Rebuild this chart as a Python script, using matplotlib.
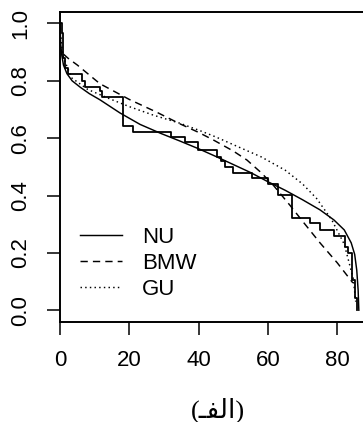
import matplotlib
matplotlib.use("Agg")
import matplotlib.pyplot as plt

# ---- data ----
step_x = [0, 0.6, 1.0, 1.3, 2.2, 6.3, 7.2, 11.5, 12.0, 18.1, 21.1, 32.1, 36.1, 39.9,
          45.2, 46.5, 47.5, 50.0, 55.3, 60.1, 63.0, 66.9, 72.2, 75.0, 79.1, 82.1,
          83.1, 84.2, 85.1, 85.6]
step_y = [1.0, 0.967, 0.88, 0.845, 0.825, 0.80, 0.78, 0.763, 0.744, 0.641, 0.622, 0.605,
          0.585, 0.559, 0.536, 0.520, 0.501, 0.478, 0.460, 0.441, 0.402, 0.321, 0.303,
          0.280, 0.260, 0.221, 0.198, 0.105, 0.041, 0.0]

nu_x = [0, 0.2, 0.5, 1.0, 2.0, 3.5, 5.8, 8.5, 11.5, 17.3, 23.1, 29.0, 34.6, 40.0, 45.0,
        50.0, 55.0, 60.0, 65.0, 70.0, 75.0, 79.0, 82.0, 84.0, 85.0, 85.6, 86.0, 86.2]
nu_y = [1.0, 0.93, 0.89, 0.855, 0.825, 0.80, 0.778, 0.755, 0.734, 0.688, 0.648, 0.617,
        0.590, 0.563, 0.536, 0.508, 0.480, 0.448, 0.418, 0.385, 0.350, 0.315, 0.280,
        0.235, 0.195, 0.14, 0.07, 0.0]

bmw_x = [1.0, 2.4, 5.0, 11.5, 20, 28, 34.6, 40, 44.2, 50, 53.9, 58, 61.6, 66.4, 70, 75,
         80, 84.5]
bmw_y = [0.893, 0.878, 0.855, 0.790, 0.735, 0.69, 0.650, 0.620, 0.594, 0.555, 0.524,
         0.48, 0.435, 0.365, 0.31, 0.235, 0.165, 0.095]

gu_x = [0, 0.5, 1.0, 3.4, 8, 14.4, 20, 27, 34.6, 40, 45, 51, 58, 65, 70, 74, 78.4, 82,
        84.6, 85.3]
gu_y = [1.0, 0.92, 0.88, 0.81, 0.77, 0.737, 0.71, 0.68, 0.652, 0.628, 0.604, 0.572,
        0.535, 0.488, 0.44, 0.39, 0.315, 0.23, 0.11, 0.03]

labels = ["NU", "BMW", "GU"]
x_ticks = [0, 20, 40, 60, 80]
y_ticks = [0.0, 0.2, 0.4, 0.6, 0.8, 1.0]
x_label = "(\u0640\uFED4\uFEDF\uFE8D)"

plt.rcParams['font.family'] = ['Liberation Sans', 'DejaVu Sans']

W, H = 363, 422
fig = plt.figure(figsize=(W / 100, H / 100), dpi=100)
left_px, right_px, top_px, bot_px = 60, 372, 12, 321.7
ax = fig.add_axes([left_px / W, (H - bot_px) / H, (right_px - left_px) / W,
                   (bot_px - top_px) / H])
ax.set_xlim(0, 90)
ax.set_ylim(-0.04, 1.04)

lw = 1.05
ax.plot(step_x, step_y, drawstyle='steps-post', color='black', lw=1.3)
ax.plot(nu_x, nu_y, color='black', lw=lw, label=labels[0])
ax.plot(bmw_x, bmw_y, color='black', lw=lw, dashes=(5, 3.5), label=labels[1])
ax.plot(gu_x, gu_y, color='black', lw=lw, dashes=(1, 2.2), label=labels[2])

for s in ax.spines.values():
    s.set_linewidth(1.4)
ax.tick_params(direction='out', length=9.5, width=1.1, labelsize=16, pad=11)
ax.set_xticks(x_ticks)
ax.set_xticklabels([str(v) for v in x_ticks])
ax.set_yticks(y_ticks)
ax.set_yticklabels([f"{v:.1f}" for v in y_ticks], rotation=90, va='center')

fig.text(218 / W, 1 - 410 / H, x_label, ha='center', va='center',
         fontsize=19, family=['Liberation Serif', 'DejaVu Sans'])

ax.legend(loc='upper left', bbox_to_anchor=(80 / W, 1 - 227 / H),
          bbox_transform=fig.transFigure, frameon=False, fontsize=16,
          handlelength=1.88, handletextpad=0.9, labelspacing=0.22,
          borderpad=0, borderaxespad=0)

fig.savefig("out.png", dpi=100)
